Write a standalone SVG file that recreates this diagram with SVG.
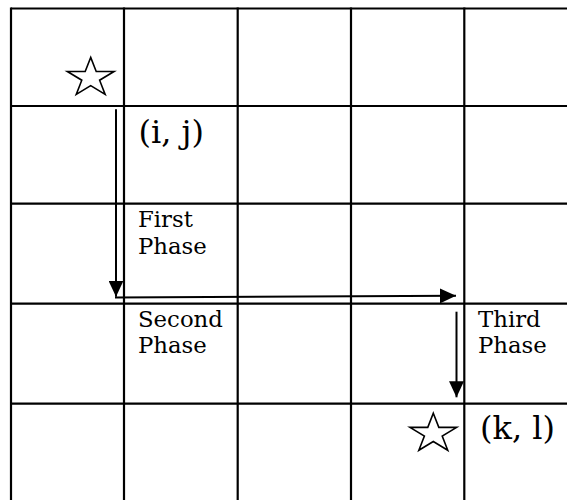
<svg xmlns="http://www.w3.org/2000/svg" width="567" height="500" viewBox="0 0 567 500">
<style>
.grid line{stroke:#000;stroke-width:2.2}
.conn line{stroke:#000;stroke-width:2;marker-end:url(#ah)}
.big{font-family:"DejaVu Serif","Liberation Serif",serif;font-size:32px;fill:#000}
.small{font-family:"DejaVu Serif","Liberation Serif",serif;font-size:22.8px;fill:#000}
.star{fill:none;stroke:#000;stroke-width:1.6;stroke-linejoin:miter}
</style>
<defs>
<marker id="ah" markerUnits="userSpaceOnUse" markerWidth="16" markerHeight="15" refX="16" refY="7.5" orient="auto">
<path d="M0,0 L16,7.5 L0,15 z" fill="#000"/>
</marker>
<polygon id="starShape" class="star" points="0,-20.45 5.52,-6.32 23.35,-6.32 8.91,2.41 14.44,16.54 0,7.81 -14.44,16.54 -8.91,2.41 -23.35,-6.32 -5.52,-6.32"/>
</defs>
<rect width="567" height="500" fill="#fff"/>
<g class="grid" id="grid">
<line x1="11" y1="8.5" x2="567" y2="8.5"/>
<line x1="11" y1="106" x2="567" y2="106"/>
<line x1="11" y1="203.7" x2="567" y2="203.7"/>
<line x1="11" y1="303.7" x2="567" y2="303.7"/>
<line x1="11" y1="403.7" x2="567" y2="403.7"/>
<line x1="11" y1="7.4" x2="11" y2="500"/>
<line x1="124" y1="7.4" x2="124" y2="500"/>
<line x1="237.7" y1="7.4" x2="237.7" y2="500"/>
<line x1="351" y1="7.4" x2="351" y2="500"/>
<line x1="464.3" y1="7.4" x2="464.3" y2="500"/>
</g>
<g id="start-star"><use href="#starShape" x="90.7" y="77.8"/></g>
<g id="end-star"><use href="#starShape" x="433.3" y="433.7"/></g>
<g id="label-ij"><text class="big" x="138.5" y="143">(i, j)</text></g>
<g id="label-kl"><text class="big" x="480" y="439">(k, l)</text></g>
<g id="label-first"><text class="small" x="138" y="226.7">First</text><text class="small" x="138" y="253.5">Phase</text></g>
<g id="label-second"><text class="small" x="138" y="326.5">Second</text><text class="small" x="138" y="353.3">Phase</text></g>
<g id="label-third"><text class="small" x="478" y="326.5">Third</text><text class="small" x="478" y="353.3">Phase</text></g>
<g class="conn" id="connectors">
<line x1="116" y1="109.3" x2="116" y2="296.7"/>
<line x1="115" y1="297.5" x2="456" y2="295.8"/>
<line x1="456.5" y1="311.7" x2="456.5" y2="397.3"/>
</g>
</svg>
